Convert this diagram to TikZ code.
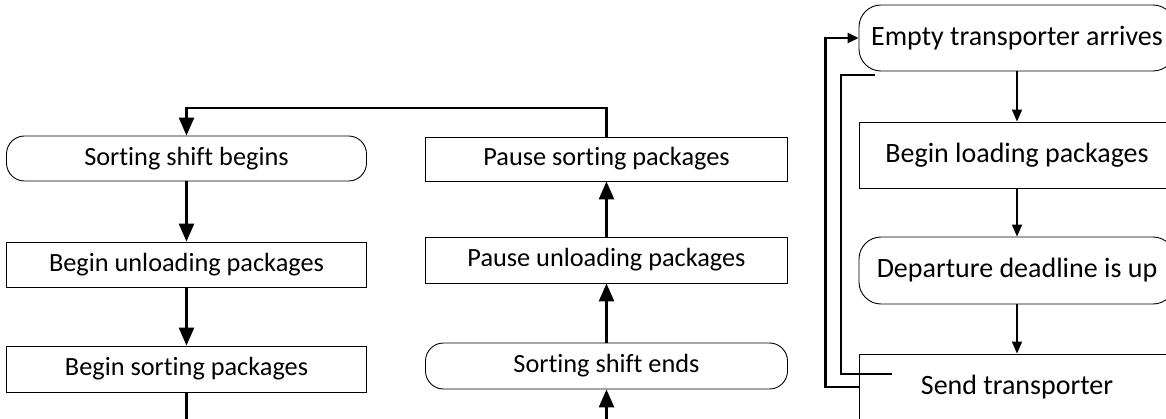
\documentclass[tikz,border=0pt]{standalone}
\usepackage{fontspec}
\setmainfont{Carlito}[Ligatures={NoCommon}]
\usetikzlibrary{arrows.meta}
\tikzset{
  boxL/.style={draw=black, line width=0.9pt, minimum width=360pt, minimum height=45pt, inner sep=0pt, font=\fontsize{26.3}{31}\selectfont},
  boxR/.style={draw=black, line width=0.9pt, minimum width=316pt, minimum height=66pt, inner sep=0pt, font=\fontsize{28}{33}\selectfont},
  termL/.style={boxL, rounded corners=18pt},
  termR/.style={boxR, rounded corners=22pt},
  arrL/.style={line width=2.6pt, -{Triangle[width=15pt,length=18pt]}},
  lineL/.style={line width=2.6pt},
  arrR/.style={line width=1.8pt, -{Triangle[width=10pt,length=12pt]}},
  loopR/.style={line width=2.3pt},
  looparr/.style={line width=2.3pt, -{Triangle[width=10pt,length=11pt]}}
}
\begin{document}
\begin{tikzpicture}[x=1pt, y=-1pt]
\useasboundingbox (0,0) rectangle (1166,419);
\clip (0,0) rectangle (1166,419);
% left column
\node[termL] (sb) at (186.5,158.5) {Sorting shift begins};
\node[boxL]  (bu) at (186.5,264.5) {Begin unloading packages};
\node[boxL, minimum height=46pt]  (bs) at (186.5,369) {Begin sorting packages};
% middle column
\node[boxL, minimum width=362pt, minimum height=44pt] (ps) at (606.5,159) {Pause sorting packages};
\node[boxL, minimum width=362pt, minimum height=46pt] (pu) at (606.5,260) {Pause unloading packages};
\node[termL, minimum width=362pt, minimum height=46pt] (se) at (606.5,366) {Sorting shift ends};
% right column
\node[termR] (ea) at (1017,38) {Empty transporter arrives};
\node[boxR]  (bl) at (1017,155) {Begin loading packages};
\node[termR, minimum height=67pt] (dd) at (1017,270.5) {Departure deadline is up};
\node[boxR]  (st) at (1017,387) {Send transporter};
% coordinates
\coordinate (lb) at (186.5,430);
\coordinate (mb) at (606.5,430);
\coordinate (topc) at (400,108);
\coordinate (i1) at (892,374);
\coordinate (i2) at (875,75);
% left connectors
\draw[arrL] (sb) -- (bu);
\draw[arrL] (bu) -- (bs);
\draw[lineL] (bs) -- (lb);
% middle connectors
\draw[arrL] (mb) -- (se);
\draw[arrL] (se) -- (pu);
\draw[arrL] (pu) -- (ps);
\draw[arrL] (ps.north) |- (topc) -| (sb.north);
% right connectors
\draw[arrR] (ea) -- (bl);
\draw[arrR] (bl) -- (dd);
\draw[arrR] (dd) -- (st);
\draw[looparr] (st.west) -- ++(-33,0) |- (ea.west);
\draw[loopR] (i1) -- ++(-51,0) |- (i2);
\end{tikzpicture}
\end{document}
